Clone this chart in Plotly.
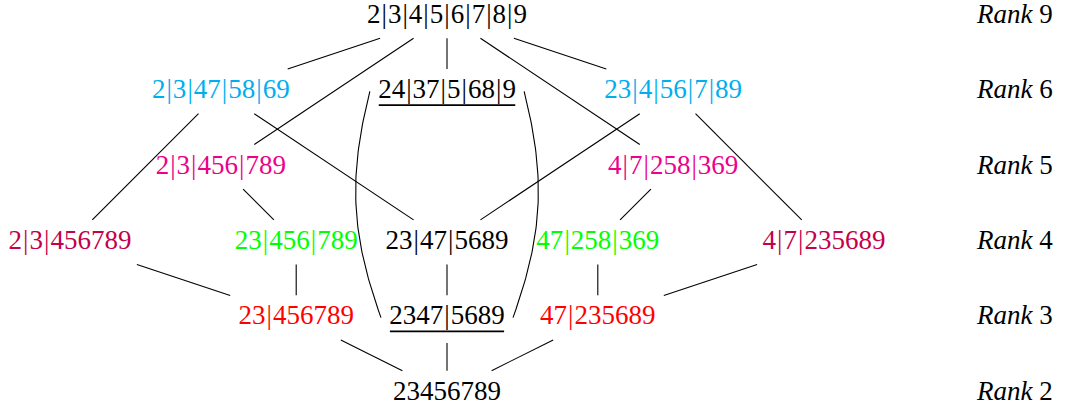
import math
import numpy as np
import plotly.graph_objects as go

# ---------------- data ----------------
node_labels = [
    "2|3|4|5|6|7|8|9",
    "2|3|47|58|69", "24|37|5|68|9", "23|4|56|7|89",
    "2|3|456|789", "4|7|258|369",
    "2|3|456789", "23|456|789", "23|47|5689", "47|258|369", "4|7|235689",
    "23|456789", "2347|5689", "47|235689",
    "23456789",
]
node_col = [0, -3, 0, 3, -3, 3, -5, -2, 0, 2, 5, -2, 0, 2, 0]
node_level = [5, 4, 4, 4, 3, 3, 2, 2, 2, 2, 2, 1, 1, 1, 0]
node_group = ["black", "cyan", "black", "cyan", "magenta", "magenta",
              "purple", "green", "black", "green", "purple",
              "red", "black", "red", "black"]
node_underlined = [False, False, True, False, False, False, False, False,
                   False, False, False, False, True, False, False]

edges = [(0, 1), (0, 4), (0, 2), (0, 5), (0, 3),
         (1, 6), (1, 8), (3, 8), (3, 10),
         (4, 7), (5, 9),
         (6, 11), (7, 11), (8, 12), (9, 13), (10, 13),
         (11, 14), (12, 14), (13, 14)]
curved_edges = [(2, 12, "west"), (2, 12, "east")]

rank_levels = [5, 4, 3, 2, 1, 0]
rank_values = ["9", "6", "5", "4", "3", "2"]

# ---------------- style ----------------
colors = {"black": "#000000", "cyan": "#00AEEF", "magenta": "#EC008C",
          "purple": "#C4004A", "green": "#00FF00", "red": "#FF0000"}
FONT = "Liberation Serif, Times New Roman, serif"
FS = 27
W, H = 1065, 411
S = 75.4            # px per grid unit
X0, Y0 = 447, 393   # pixel position of grid origin
EM = 26.7
SEP = 8.9
rank_col = 7.53
PAD = '<span style="font-size:5px">\u2009</span>'


def text_w_px(s):
    return sum(0.278 if c == "|" else 0.5 for c in s) * EM


def display(s):
    return s.replace("|", PAD + "|" + PAD)


hw = [(text_w_px(s) / 2 + SEP) / S for s in node_labels]
hh_top = [22.3 / S for _ in node_labels]
hh_bot = [(25.5 if u else 22.3) / S for u in node_underlined]

fig = go.Figure()

# straight edges clipped at node boxes
ex, ey = [], []
for a, b in edges:
    xa, ya = node_col[a], node_level[a]
    xb, yb = node_col[b], node_level[b]
    dx, dy = xb - xa, yb - ya
    ta = min(hw[a] / abs(dx) if dx else 1e9,
             (hh_bot[a] if dy < 0 else hh_top[a]) / abs(dy) if dy else 1e9)
    tb = min(hw[b] / abs(dx) if dx else 1e9,
             (hh_top[b] if dy < 0 else hh_bot[b]) / abs(dy) if dy else 1e9)
    ex += [xa + ta * dx, xb - tb * dx, None]
    ey += [ya + ta * dy, yb - tb * dy, None]
fig.add_trace(go.Scatter(x=ex, y=ey, mode="lines",
                         line=dict(color="black", width=1.1),
                         hoverinfo="skip"))


def rot(v, ang):
    c, s = math.cos(ang), math.sin(ang)
    return np.array([v[0] * c - v[1] * s, v[0] * s + v[1] * c])


theta = math.radians(17)
for a, b, side in curved_edges:
    sgn = -1 if side == "west" else 1
    A = np.array([node_col[a] + sgn * hw[a], node_level[a]])
    B = np.array([node_col[b] + sgn * hw[b], node_level[b]])
    d = B - A
    ang = -theta if side == "west" else theta
    c1 = A + 0.3915 * rot(d, ang)
    c2 = B - 0.3915 * rot(d, -ang)
    t = np.linspace(0, 1, 60)[:, None]
    pts = ((1 - t) ** 3) * A + 3 * ((1 - t) ** 2) * t * c1 + \
        3 * (1 - t) * t ** 2 * c2 + t ** 3 * B
    fig.add_trace(go.Scatter(x=pts[:, 0], y=pts[:, 1], mode="lines",
                             line=dict(color="black", width=1.1),
                             hoverinfo="skip"))

# underlines
ux, uy = [], []
for i, u in enumerate(node_underlined):
    if u:
        half = text_w_px(node_labels[i]) / 2 / S
        yy = node_level[i] - 13.8 / S
        ux += [node_col[i] - half, node_col[i] + half, None]
        uy += [yy, yy, None]
fig.add_trace(go.Scatter(x=ux, y=uy, mode="lines",
                         line=dict(color="black", width=1.8),
                         hoverinfo="skip"))

# node labels
fig.add_trace(go.Scatter(
    x=node_col, y=node_level, mode="text",
    text=[display(s) for s in node_labels],
    textposition="middle center",
    textfont=dict(family=FONT, size=FS,
                  color=[colors[g] for g in node_group]),
    hoverinfo="skip"))

# rank labels
fig.add_trace(go.Scatter(
    x=[rank_col] * len(rank_levels), y=rank_levels, mode="text",
    text=[f"<i>Rank</i> {v}" for v in rank_values],
    textposition="middle center",
    textfont=dict(family=FONT, size=FS, color="black"),
    hoverinfo="skip"))

fig.update_layout(
    width=W, height=H, margin=dict(l=0, r=0, t=0, b=0),
    paper_bgcolor="white", plot_bgcolor="white", showlegend=False,
    xaxis=dict(range=[-X0 / S, (W - X0) / S], visible=False, fixedrange=True),
    yaxis=dict(range=[-(H - Y0) / S, Y0 / S], visible=False, fixedrange=True),
)
fig.write_html("out.html", config={"displayModeBar": False},
               post_script="document.body.style.margin='0px';"
                           "document.body.style.overflow='hidden';")
